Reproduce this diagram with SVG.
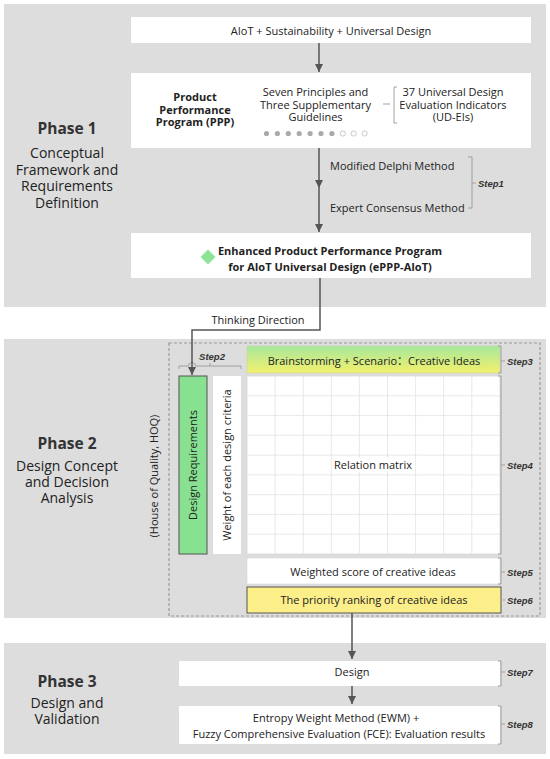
<svg xmlns="http://www.w3.org/2000/svg" width="550" height="759" viewBox="0 0 550 759">
<defs>
<marker id="ah" viewBox="0 0 10 10" refX="10" refY="5" markerWidth="8" markerHeight="8" markerUnits="userSpaceOnUse" orient="auto">
<path d="M0,0 L10,5 L0,10 z" fill="#555"/>
</marker>
<linearGradient id="bg" x1="0" y1="0" x2="0" y2="1">
<stop offset="0" stop-color="#a6e89c"/>
<stop offset="1" stop-color="#f4f06c"/>
</linearGradient>
<style>
.panel{fill:#dddddd}
.box{fill:#ffffff}
.t{font-family:"Open Sans","Noto Sans","Noto Sans CJK SC",sans-serif;font-size:11px;fill:#222;text-anchor:middle}
.b{font-weight:bold}
.ph{font-family:"Open Sans","Noto Sans",sans-serif;font-size:15.5px;font-weight:bold;fill:#333;text-anchor:middle}
.ps{font-family:"Open Sans","Noto Sans",sans-serif;font-size:14px;fill:#222;text-anchor:middle}
.st{font-family:"Liberation Sans",Arial,sans-serif;font-size:9.5px;font-weight:bold;font-style:italic;fill:#333}
.ln{fill:none;stroke:#555;stroke-width:1.5}
.br{fill:none;stroke:#999;stroke-width:0.9}
.grid{stroke:#e2e2e2;stroke-width:0.8}
.dot{fill:#aaaaaa}
.hol{fill:#fff;stroke:#bbb;stroke-width:0.8}
</style>
</defs>

<g id="panels">
<rect class="panel" x="4" y="4" width="542" height="303"/>
<rect class="panel" x="4" y="339" width="542" height="279"/>
<rect class="panel" x="4" y="643" width="542" height="111"/>
</g>

<g id="phase1-label">
<text class="ph" x="67" y="134">Phase 1</text>
<text class="ps" x="67" y="158">Conceptual</text>
<text class="ps" x="67" y="174.5">Framework and</text>
<text class="ps" x="67" y="191">Requirements</text>
<text class="ps" x="67" y="207.5">Definition</text>
</g>
<g id="phase2-label">
<text class="ph" x="67" y="448.5">Phase 2</text>
<text class="ps" x="67" y="471">Design Concept</text>
<text class="ps" x="67" y="487">and Decision</text>
<text class="ps" x="67" y="503">Analysis</text>
<text class="t" font-size="10.5" transform="translate(158,476) rotate(-90)">(House of Quality, HOQ)</text>
</g>
<g id="phase3-label">
<text class="ph" x="67" y="686.5">Phase 3</text>
<text class="ps" x="67" y="708">Design and</text>
<text class="ps" x="67" y="724">Validation</text>
</g>

<g id="hoq-frame">
<rect x="169" y="343" width="371" height="273" fill="none" stroke="#999" stroke-width="1.2" stroke-dasharray="3,2"/>
</g>

<g id="n-aiot">
<rect class="box" x="131" y="17" width="400" height="26"/>
<text class="t" x="331" y="35">AIoT + Sustainability + Universal Design</text>
</g>

<g id="n-ppp">
<rect class="box" x="131" y="73" width="400" height="75"/>
<text class="t b" font-size="10.5" x="195" y="101">Product</text>
<text class="t b" font-size="10.5" x="195" y="113.5">Performance</text>
<text class="t b" font-size="10.5" x="195" y="126">Program (PPP)</text>
<text class="t" x="315.5" y="96">Seven Principles and</text>
<text class="t" x="315.5" y="108.5">Three Supplementary</text>
<text class="t" x="315.5" y="121">Guidelines</text>
<path class="br" d="M383,104 H390 M397,87 H394 V123 H397" stroke="#888"/>
<text class="t" x="453" y="96">37 Universal Design</text>
<text class="t" x="453" y="108.5">Evaluation Indicators</text>
<text class="t" x="453" y="121">(UD-EIs)</text>
<circle class="dot" cx="266.5" cy="133.5" r="2.6"/>
<circle class="dot" cx="277.4" cy="133.5" r="2.6"/>
<circle class="dot" cx="288.3" cy="133.5" r="2.6"/>
<circle class="dot" cx="299.2" cy="133.5" r="2.6"/>
<circle class="dot" cx="310.1" cy="133.5" r="2.6"/>
<circle class="dot" cx="321" cy="133.5" r="2.6"/>
<circle class="dot" cx="331.9" cy="133.5" r="2.6"/>
<circle class="hol" cx="342.8" cy="133.5" r="2.6"/>
<circle class="hol" cx="353.7" cy="133.5" r="2.6"/>
<circle class="hol" cx="364.6" cy="133.5" r="2.6"/>
</g>

<g id="n-step1">
<text class="t" x="330" y="170" text-anchor="start" style="text-anchor:start">Modified Delphi Method</text>
<text class="t" x="330" y="212" style="text-anchor:start">Expert Consensus Method</text>
<path class="br" d="M468,157 H472 V208 H468 M472,183 H476"/>
<text class="st" x="478" y="186.5">Step1</text>
</g>

<g id="n-eppp">
<rect class="box" x="131" y="233" width="400" height="45"/>
<path d="M208,249.5 L215.5,257 L208,264.5 L200.5,257 z" fill="#8ee396"/>
<text class="t b" font-size="10.5" x="330" y="255">Enhanced Product Performance Program</text>
<text class="t b" font-size="10.5" x="330" y="271">for AIoT Universal Design (ePPP-AIoT)</text>
</g>

<g id="n-step2">
<text class="st" x="212" y="359.5" text-anchor="middle">Step2</text>
<path class="br" d="M179,369 V366 H188.5 A3.5,3.5 0 0 1 195.5,366 H241 V369 M210,366 V363"/>
</g>

<g id="n-brainstorm">
<rect x="247" y="346" width="253" height="27" fill="url(#bg)" stroke="#d0d0a0" stroke-width="0.5"/>
<text class="t" font-size="11.5" x="374" y="365">Brainstorming + Scenario：Creative Ideas</text>
<path class="br" d="M498,346 H501 V373 H498 M501,361 H505"/>
<text class="st" x="507" y="364.5">Step3</text>
</g>

<g id="n-design-req">
<rect x="179" y="376" width="28" height="178" fill="#88e190" stroke="#555" stroke-width="1"/>
<text class="t" font-size="10.5" transform="translate(197,465) rotate(-90)">Design Requirements</text>
</g>

<g id="n-weight">
<rect class="box" x="213" y="376" width="28" height="178"/>
<text class="t" font-size="10.5" transform="translate(231,465) rotate(-90)">Weight of each design criteria</text>
</g>

<g id="n-matrix">
<rect class="box" x="247" y="376" width="253" height="178" stroke="#d8d8d8" stroke-width="0.8"/>
<path class="grid" d="M275.1,376 V554 M303.2,376 V554 M331.3,376 V554 M359.4,376 V554 M387.5,376 V554 M415.6,376 V554 M443.7,376 V554 M471.8,376 V554 M247,395.8 H500 M247,415.6 H500 M247,435.3 H500 M247,455.1 H500 M247,474.9 H500 M247,494.7 H500 M247,514.4 H500 M247,534.2 H500"/>
<rect x="343" y="458" width="62" height="14" fill="#fff"/>
<text class="t" x="373" y="469">Relation matrix</text>
<path class="br" d="M498,376 H501 V554 H498 M501,465 H505"/>
<text class="st" x="507" y="468.5">Step4</text>
</g>

<g id="n-weighted">
<rect class="box" x="247" y="558" width="253" height="26" stroke="#d8d8d8" stroke-width="0.6"/>
<text class="t" x="373" y="576">Weighted score of creative ideas</text>
<path class="br" d="M498,558 H501 V584 H498 M501,572 H505"/>
<text class="st" x="507" y="575.5">Step5</text>
</g>

<g id="n-priority">
<rect x="247" y="587" width="254" height="26" fill="#fcef8a" stroke="#555" stroke-width="1"/>
<text class="t" x="374" y="604">The priority ranking of creative ideas</text>
<path class="br" d="M503,600 H505"/>
<text class="st" x="507" y="603.5">Step6</text>
</g>

<g id="n-design">
<rect class="box" x="179" y="661" width="321" height="25"/>
<text class="t" x="352" y="676">Design</text>
<path class="br" d="M498,661 H501 V686 H498 M501,672 H505"/>
<text class="st" x="507" y="675.5">Step7</text>
</g>

<g id="n-ewm">
<rect class="box" x="179" y="706" width="321" height="38"/>
<text class="t" x="336" y="722">Entropy Weight Method (EWM) +</text>
<text class="t" x="339" y="738">Fuzzy Comprehensive Evaluation (FCE): Evaluation results</text>
<path class="br" d="M498,706 H501 V744 H498 M501,724 H505"/>
<text class="st" x="507" y="727.5">Step8</text>
</g>

<g id="connectors">
<path class="ln" d="M319,43 V72" marker-end="url(#ah)"/>
<path class="ln" d="M319,148 V188" marker-end="url(#ah)"/>
<path class="ln" d="M319,188 V232" marker-end="url(#ah)"/>
<path class="ln" d="M320,278 V330 H192 V375" marker-end="url(#ah)"/>
<text class="t" x="258" y="324">Thinking Direction</text>
<path class="ln" d="M352,613 V659" marker-end="url(#ah)"/>
<path class="ln" d="M352,686 V704" marker-end="url(#ah)"/>
</g>
</svg>
